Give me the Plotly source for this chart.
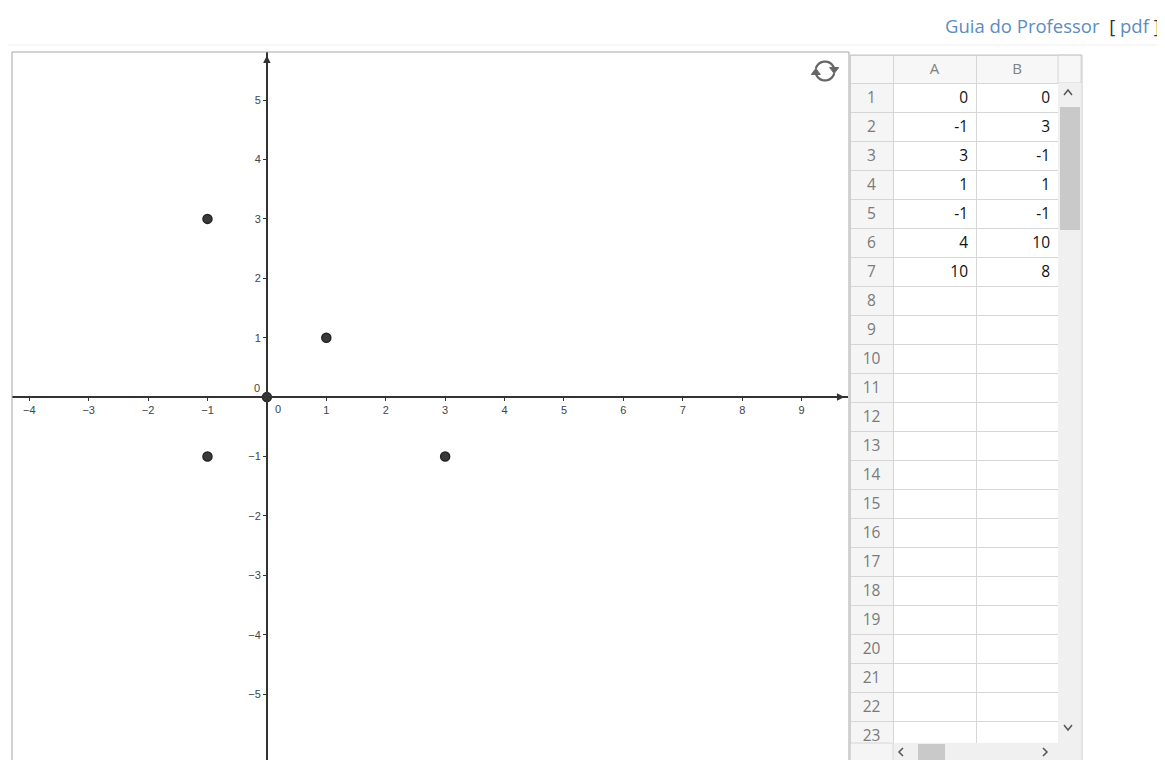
import math
import plotly.graph_objects as go

# ---------------- data ----------------
col_A = [0, -1, 3, 1, -1, 4, 10]
col_B = [0, 3, -1, 1, -1, 10, 8]
row_numbers = list(range(1, 24))
column_headers = ["", "A", "B"]
x_ticks = [-4, -3, -2, -1, 1, 2, 3, 4, 5, 6, 7, 8, 9]
y_ticks = [-5, -4, -3, -2, -1, 1, 2, 3, 4, 5]
x_range = [-4.29, 9.78]
y_range = [-6.11, 5.81]

# ---------------- geometry helpers ----------------
# page body has an 8px margin, so the figure is placed at (8, 8)
OFF = 8
W, H = 1165, 760
FW, FH = W - OFF, H - OFF


def px(x):
    return (x - OFF) / FW


def py(y):
    return 1 - (y - OFF) / FH


gx0, gx1, gy0, gy1 = 12, 848, 52, 760
xdom = [px(gx0), px(gx1)]
ydom = [max(0.0, py(gy1)), py(gy0)]
x0_paper = xdom[0] + (0 - x_range[0]) / (x_range[1] - x_range[0]) * (xdom[1] - xdom[0])
y0_paper = ydom[0] + (0 - y_range[0]) / (y_range[1] - y_range[0]) * (ydom[1] - ydom[0])

AX = "#333333"
TICKF = dict(family="Liberation Sans", size=11, color="#444444")
fig = go.Figure()

# points from the spreadsheet
fig.add_trace(go.Scatter(
    x=col_A, y=col_B, mode="markers",
    marker=dict(size=9, color="#3a3a3a", line=dict(color="#222222", width=1.5)),
    hoverinfo="skip", showlegend=False,
))

# spreadsheet table
n = len(row_numbers)
cells_A = [str(v) for v in col_A] + [""] * (n - len(col_A))
cells_B = [str(v) for v in col_B] + [""] * (n - len(col_B))
tx0, tx1, ty0 = 850, 1058, 55
fig.add_trace(go.Table(
    domain=dict(x=[px(tx0), px(tx1)], y=[0, py(ty0)]),
    columnwidth=[43, 83, 82],
    header=dict(
        values=column_headers, height=28,
        fill_color="#f7f7f7", line_color="#d6d6d6",
        align="center", font=dict(family="Open Sans", size=15, color="#808080"),
    ),
    cells=dict(
        values=[[str(r) for r in row_numbers], cells_A, cells_B], height=29,
        fill_color=[["#f5f5f5"] * n, ["white"] * n, ["white"] * n],
        line_color="#d6d6d6",
        align=["center", "right", "right"],
        font=dict(family="Open Sans", size=15.5,
                  color=[["#7a7a7a"] * n, ["#111111"] * n, ["#111111"] * n]),
    ),
))

shapes = []


def rect(x0, y0, x1, y1, fill=None, line=None, width=1):
    shapes.append(dict(
        type="rect", xref="paper", yref="paper",
        x0=px(x0), x1=px(x1), y0=py(y1), y1=py(y0),
        fillcolor=fill if fill else "rgba(0,0,0,0)",
        line=dict(color=line if line else "rgba(0,0,0,0)", width=width),
        layer="above",
    ))


def poly(points, color, width=1.5, closed=False, fill=None):
    d = "M " + " L ".join(f"{px(a):.5f},{py(b):.5f}" for a, b in points)
    if closed:
        d += " Z"
    shapes.append(dict(
        type="path", xref="paper", yref="paper", path=d,
        line=dict(color=color, width=width),
        fillcolor=fill if fill else "rgba(0,0,0,0)", layer="above",
    ))


# faint page separator and graph panel frame
poly([(OFF, 45), (W, 45)], "#eeeeee", 1)
rect(gx0, gy0, gx1 + 1, H + 2, line="#a8a8a8", width=1)

# table chrome: extra header cell, scrollbars, outer border
rect(1058, 55, 1081, 83, fill="#f7f7f7", line="#d6d6d6")
rect(1058, 83, 1081, 743, fill="#f0f0f0")
rect(1060, 107, 1080, 230, fill="#c9c9c9")
rect(850, 743, 1081, H + 2, fill="#f0f0f0")
rect(850, 743, 893, H + 2, fill="#f5f5f5", line="#d6d6d6")
rect(918, 744, 945, H + 2, fill="#c9c9c9")
rect(850, 55, 1082, H + 2, line="#c8c8c8")

# scrollbar chevrons
poly([(1064, 95), (1068, 90), (1072, 95)], "#555555", 1.5)
poly([(1064, 725), (1068, 730), (1072, 725)], "#555555", 1.5)
poly([(903, 748), (899, 752), (903, 756)], "#555555", 1.5)
poly([(1043, 748), (1047, 752), (1043, 756)], "#555555", 1.5)

# refresh icon
cx, cy, r = 825, 71, 9.5
arc1 = [(cx + r * math.cos(math.radians(a)), cy - r * math.sin(math.radians(a))) for a in range(165, 10, -10)]
arc2 = [(cx + r * math.cos(math.radians(a)), cy - r * math.sin(math.radians(a))) for a in range(345, 190, -10)]
poly(arc1, "#666666", 2.3)
poly(arc2, "#666666", 2.3)
ex, ey = arc1[-1]
poly([(ex - 4.5, ey - 1), (ex + 4.5, ey - 1), (ex, ey + 5)], "#666666", 1, closed=True, fill="#666666")
ex, ey = arc2[-1]
poly([(ex - 4.5, ey + 1), (ex + 4.5, ey + 1), (ex, ey - 5)], "#666666", 1, closed=True, fill="#666666")

annotations = [
    # axis arrow heads
    dict(x=9.72, y=0, xref="x", yref="y", ax=-12, ay=0, text="", showarrow=True,
         arrowhead=2, arrowsize=1, arrowwidth=1.5, arrowcolor=AX),
    dict(x=0, y=5.75, xref="x", yref="y", ax=0, ay=12, text="", showarrow=True,
         arrowhead=2, arrowsize=1, arrowwidth=1.5, arrowcolor=AX),
    # origin labels
    dict(x=0, y=0, xref="x", yref="y", text="0", showarrow=False,
         xshift=-10, yshift=9, font=TICKF),
    dict(x=0, y=0, xref="x", yref="y", text="0", showarrow=False,
         xshift=11, yshift=-12, font=TICKF),
    # header link
    dict(x=px(1162), y=py(25), xref="paper", yref="paper", xanchor="right", yanchor="middle",
         showarrow=False,
         text="Guia do Professor&nbsp;&nbsp;<span style='color:#333333'>[</span> pdf <span style='color:#333333'>]</span>",
         font=dict(family="Open Sans", size=18.5, color="#5b8cc4")),
]

fig.update_layout(
    width=FW, height=FH,
    margin=dict(l=0, r=0, t=0, b=0),
    paper_bgcolor="white", plot_bgcolor="white",
    showlegend=False,
    shapes=shapes,
    annotations=annotations,
    xaxis=dict(
        domain=xdom, range=x_range, anchor="free", position=y0_paper,
        showgrid=False, zeroline=False, showline=True, linecolor=AX, linewidth=1.6,
        tickmode="array", tickvals=x_ticks, ticks="outside", ticklen=3, tickcolor=AX,
        tickfont=TICKF, fixedrange=True,
    ),
    yaxis=dict(
        domain=ydom, range=y_range, anchor="free", position=x0_paper,
        showgrid=False, zeroline=False, showline=True, linecolor=AX, linewidth=1.6,
        tickmode="array", tickvals=y_ticks, ticks="outside", ticklen=3, tickcolor=AX,
        tickfont=TICKF, fixedrange=True,
    ),
)

fig.write_html("out.html", config={"displayModeBar": False})
